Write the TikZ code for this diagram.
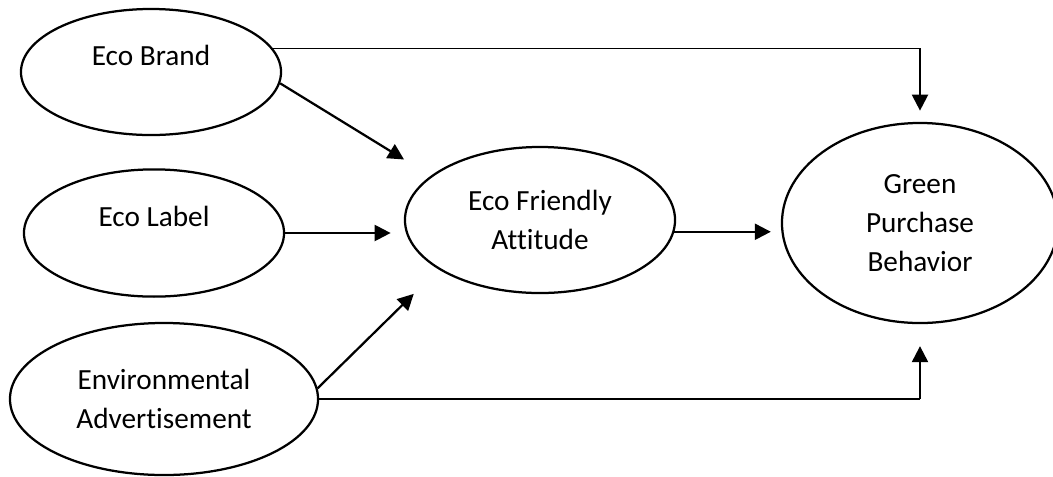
\documentclass[tikz,border=0pt]{standalone}
\usepackage{fontspec}
\setmainfont{Carlito}[Ligatures=NoCommon]
\usepackage{tikz}
\usetikzlibrary{arrows.meta,shapes.geometric,positioning}
\tikzstyle{construct} = [ellipse, draw=black, line width=1.6pt, inner sep=0pt, align=center, font=\fontsize{20.8}{27.5}\selectfont]
\tikzstyle{arrow} = [line width=1.6pt, -{Triangle[length=0.4cm,width=0.4cm]}]
\tikzstyle{link} = [line width=0.8pt]

\begin{document}
\begin{tikzpicture}[x=0.025cm, y=-0.025cm]
\useasboundingbox (0,0) rectangle (1053,476);

% Independent constructs
\node[construct, minimum width=6.5cm, minimum height=3.15cm, text depth=0.85cm] (brand) at (151,72) {Eco Brand};
\node[construct, minimum width=6.5cm, minimum height=3.18cm, text depth=0.85cm] (label) at (154,233) {Eco Label};
\node[construct, minimum width=7.7cm, minimum height=3.8cm] (advert) at (164,399) {Environmental\\Advertisement};

% Mediator
\node[construct, minimum width=6.75cm, minimum height=3.65cm] (attitude) at (540,220) {Eco Friendly\\Attitude};

% Dependent construct
\node[construct, minimum width=6.9cm, minimum height=5cm] (behavior) at (920,223) {Green\\Purchase\\Behavior};

% Bends of the direct paths
\coordinate (topbend) at (brand.11 -| behavior.north);
\coordinate (botbend) at (advert.east -| behavior.south);

% Arrows
\draw[arrow, shorten >=0.78cm] (brand.-5) -- (attitude.158);
\draw[arrow, shorten >=0.33cm] (label.east) -- (attitude.west |- label.east);
\draw[arrow, shorten >=0.87cm] (advert.4) -- (attitude.206);
\draw[arrow, shorten >=0.25cm] (attitude.-5) -- (behavior.west |- attitude.-5);
\draw[link] (brand.11) -- (topbend);
\draw[arrow, shorten >=0.28cm] (topbend) -- (behavior.north);
\draw[link] (advert.east) -- (botbend);
\draw[arrow, shorten >=0.55cm] (botbend) -- (behavior.south);
\end{tikzpicture}
\end{document}
